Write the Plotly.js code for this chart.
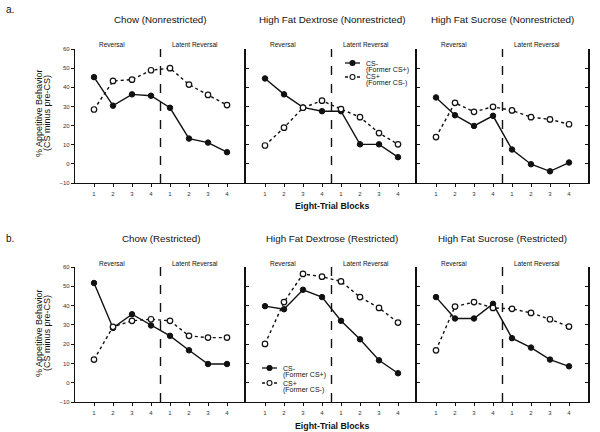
<!DOCTYPE html>
<html>
<head>
<meta charset="utf-8">
<script src="https://cdn.plot.ly/plotly-3.0.1.min.js"></script>
<style>html,body{margin:0;padding:0;background:#fff;}#chart{width:600px;height:432px;}</style>
</head>
<body>
<div id="chart"></div>
<script>
// ---- data ----
const blocks = [1, 2, 3, 4, 5, 6, 7, 8];
const blockLabels = ['1', '2', '3', '4', '1', '2', '3', '4'];
const panelTitles = ['Chow (Nonrestricted)', 'High Fat Dextrose (Nonrestricted)', 'High Fat Sucrose (Nonrestricted)',
                     'Chow (Restricted)', 'High Fat Dextrose (Restricted)', 'High Fat Sucrose (Restricted)'];
const seriesNames = ['CS-', 'CS+'];
const seriesSubNames = ['(Former CS+)', '(Former CS-)'];

const chowNR_minus = [45.3, 30.4, 36.3, 35.6, 29.3, 13.2, 11.1, 6.1];
const chowNR_plus  = [28.4, 43.3, 44.0, 48.9, 50.0, 41.4, 36.0, 30.7];
const hfdNR_minus  = [44.6, 36.3, 29.5, 27.5, 27.5, 10.2, 10.2, 3.5];
const hfdNR_plus   = [9.6, 18.9, 29.3, 33.0, 28.6, 24.4, 16.1, 10.2];
const hfsNR_minus  = [34.7, 25.4, 19.8, 25.1, 7.5, -0.2, -3.9, 0.7];
const hfsNR_plus   = [14.0, 31.9, 27.2, 29.8, 27.9, 24.4, 23.2, 20.7];
const chowR_minus  = [51.7, 28.4, 35.5, 29.7, 24.3, 16.8, 9.7, 9.7];
const chowR_plus   = [12.0, 29.0, 32.1, 32.9, 32.1, 24.3, 23.4, 23.4];
const hfdR_minus   = [39.7, 38.1, 48.2, 44.4, 32.1, 22.5, 11.6, 4.9];
const hfdR_plus    = [20.1, 41.8, 56.4, 55.0, 52.5, 44.4, 38.8, 31.2];
const hfsR_minus   = [44.4, 33.3, 33.3, 40.9, 23.1, 18.2, 12.0, 8.5];
const hfsR_plus    = [16.8, 39.5, 41.8, 38.8, 38.3, 36.2, 32.9, 29.1];

const minusSeries = [chowNR_minus, hfdNR_minus, hfsNR_minus, chowR_minus, hfdR_minus, hfsR_minus];
const plusSeries  = [chowNR_plus, hfdNR_plus, hfsNR_plus, chowR_plus, hfdR_plus, hfsR_plus];

// ---- layout geometry (pixels) ----
const W = 600, H = 432;
const colX = [[75, 246], [246, 417], [417, 588]];
const rowY = [[49, 183], [267, 402]];
const FONT = 'Liberation Sans, Arial, sans-serif';
const INK = '#111';
const px = function (v) { return v / W; };
const py = function (v) { return 1 - v / H; };

const traces = [];
const layout = {
  width: W, height: H,
  margin: {l: 0, r: 0, t: 0, b: 0},
  paper_bgcolor: '#fff', plot_bgcolor: 'rgba(0,0,0,0)',
  font: {family: FONT, color: INK, size: 7},
  showlegend: false,
  shapes: [], annotations: []
};

function txt(x, y, text, size, extra) {
  const a = {xref: 'paper', yref: 'paper', x: px(x), y: py(y), text: text, showarrow: false,
    xanchor: 'center', yanchor: 'middle', font: {size: size, family: FONT, color: INK}};
  return Object.assign(a, extra || {});
}

for (let i = 0; i < 6; i++) {
  const row = Math.floor(i / 3), col = i % 3;
  const n = i + 1;
  const xa = n === 1 ? 'x' : 'x' + n;
  const ya = n === 1 ? 'y' : 'y' + n;
  const xKey = n === 1 ? 'xaxis' : 'xaxis' + n;
  const yKey = n === 1 ? 'yaxis' : 'yaxis' + n;

  layout[xKey] = {
    domain: [px(colX[col][0]), px(colX[col][1])],
    anchor: ya, range: [0, 9], fixedrange: true,
    tickmode: 'array', tickvals: blocks, ticktext: blockLabels,
    showline: true, linecolor: INK, linewidth: 1.2,
    ticks: 'outside', ticklen: 3, tickcolor: INK, tickwidth: 1, ticklabelstandoff: 2,
    showgrid: false, zeroline: false,
    tickfont: {size: 6, family: FONT, color: '#333'}
  };
  layout[yKey] = {
    domain: [py(rowY[row][1]), py(rowY[row][0])],
    anchor: xa, range: [-10, 60], dtick: 10, fixedrange: true,
    showline: true, linecolor: INK, linewidth: col === 0 ? 1.2 : 1.8,
    ticks: col === 0 ? 'outside' : 'inside', ticklen: 3, tickcolor: INK, tickwidth: 1,
    showticklabels: col === 0, showgrid: false, zeroline: false,
    mirror: col === 2 ? 'ticks' : false,
    tickfont: {size: 6, family: FONT, color: '#333'}
  };

  traces.push({
    x: blocks, y: minusSeries[i], xaxis: xa, yaxis: ya, type: 'scatter', mode: 'lines+markers',
    name: seriesNames[0] + ' ' + seriesSubNames[0], cliponaxis: false,
    line: {color: INK, width: 1.4, dash: 'solid'},
    marker: {symbol: 'circle', size: 5.5, color: INK, line: {color: INK, width: 1}}
  });
  traces.push({
    x: blocks, y: plusSeries[i], xaxis: xa, yaxis: ya, type: 'scatter', mode: 'lines+markers',
    name: seriesNames[1] + ' ' + seriesSubNames[1], cliponaxis: false,
    line: {color: INK, width: 1.4, dash: 'dot'},
    marker: {symbol: 'circle', size: 5.5, color: '#fff', line: {color: INK, width: 1.2}}
  });

  // dashed phase divider
  layout.shapes.push({
    type: 'line', xref: xa, yref: ya, x0: 4.5, x1: 4.5, y0: -10, y1: 60,
    line: {color: INK, width: 1.4, dash: 'dash'}
  });

  // phase labels
  layout.annotations.push({
    xref: xa, yref: 'paper', x: 1.95, y: py(rowY[row][0] - 4), xanchor: 'center',
    text: 'Reversal', showarrow: false, font: {size: 6.5, family: FONT, color: INK}, yanchor: 'middle'
  });
  layout.annotations.push({
    xref: xa, yref: 'paper', x: 6.3, y: py(rowY[row][0] - 4), xanchor: 'center',
    text: 'Latent Reversal', showarrow: false, font: {size: 6.5, family: FONT, color: INK}, yanchor: 'middle'
  });
  // panel titles
  layout.annotations.push(txt((colX[col][0] + colX[col][1]) / 2, row === 0 ? 19 : 238, panelTitles[i], 9.8));
}

// row labels, axis titles
layout.annotations.push(txt(4, 9, 'a.', 10, {xanchor: 'left'}));
layout.annotations.push(txt(4, 239, 'b.', 10, {xanchor: 'left'}));
[206, 426].forEach(function (yy) {
  layout.annotations.push(txt(331.5, yy, '<b>Eight-Trial Blocks</b>', 8.8));
});
[113, 333].forEach(function (yy) {
  layout.annotations.push(txt(39, yy, '% Appetitive Behavior', 9, {textangle: -90}));
  layout.annotations.push(txt(47, yy, '(CS minus pre-CS)', 9, {textangle: -90}));
});

// manual legends (symbol + two-line label), positioned like the reference
function legend(x0, yMinus, yPlus) {
  const entries = [[yMinus, 'solid', INK, 0], [yPlus, 'dot', '#fff', 1]];
  entries.forEach(function (e) {
    const y = e[0];
    layout.shapes.push({type: 'line', xref: 'paper', yref: 'paper', x0: px(x0), x1: px(x0 + 15), y0: py(y), y1: py(y),
      line: {color: INK, width: 1.3, dash: e[1]}});
    layout.shapes.push({type: 'circle', xref: 'paper', yref: 'paper',
      x0: px(x0 + 5), x1: px(x0 + 10), y0: py(y + 2.5), y1: py(y - 2.5),
      fillcolor: e[2], line: {color: INK, width: 1.1}});
    layout.annotations.push(txt(x0 + 19, y, seriesNames[e[3]], 7, {xanchor: 'left'}));
    layout.annotations.push(txt(x0 + 19, y + 6.5, seriesSubNames[e[3]], 7, {xanchor: 'left'}));
  });
}
legend(345, 63, 77);
legend(262, 368, 383);

Plotly.newPlot('chart', traces, layout, {staticPlot: true, displayModeBar: false});
</script>
</body>
</html>
